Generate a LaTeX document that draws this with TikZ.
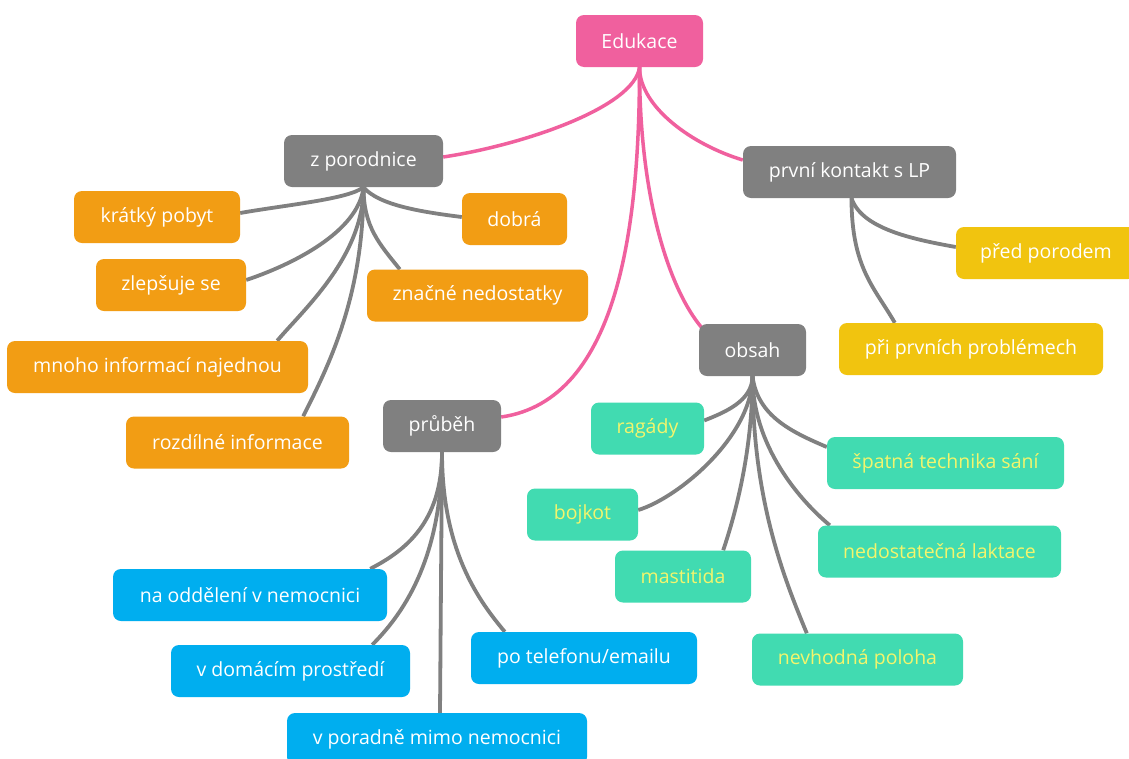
\documentclass[tikz,border=0pt]{standalone}
\usepackage{fontspec}
\setmainfont{Open Sans}
\usepackage{xcolor}
\usepackage{tikz}
\usetikzlibrary{calc,backgrounds}
\definecolor{rootc}{HTML}{F0609E}
\definecolor{midc}{HTML}{808080}
\definecolor{orac}{HTML}{F29D14}
\definecolor{yelc}{HTML}{F1C40F}
\definecolor{grnc}{HTML}{41DBB1}
\definecolor{grntxt}{HTML}{F3F56C}
\definecolor{bluc}{HTML}{00AEEF}
\tikzset{
  box/.style={rounded corners=8pt,text=white,inner xsep=6pt,minimum height=52pt,font=\fontsize{19.5}{22}\selectfont},
  rootbox/.style={box,fill=rootc},
  midbox/.style={box,fill=midc},
  obox/.style={box,fill=orac},
  ybox/.style={box,fill=yelc},
  gbox/.style={box,fill=grnc,text=grntxt},
  bbox/.style={box,fill=bluc},
  rln/.style={rootc,line width=3.5pt},
  gln/.style={midc,line width=3.8pt}
}
\begin{document}
\begin{tikzpicture}[x=1pt,y=-1pt]
\useasboundingbox (0,0) rectangle (1129,758);
\node[rootbox,minimum width=127] (edu) at (639.5,41) {Edukace};
\node[midbox,minimum width=159] (zpor) at (363.5,161) {z porodnice};
\node[midbox,minimum width=213] (pk) at (849.5,172) {první kontakt s LP};
\node[midbox,minimum width=107] (obsah) at (752.5,350) {obsah};
\node[midbox,minimum width=118] (prub) at (442,426) {průběh};
\node[obox,minimum width=166] (kp) at (157,217) {krátký pobyt};
\node[obox,minimum width=150] (zl) at (171,285) {zlepšuje se};
\node[obox,minimum width=301] (mnoho) at (157.5,367) {mnoho informací najednou};
\node[obox,minimum width=223] (rozd) at (237.5,442.5) {rozdílné informace};
\node[obox,minimum width=105] (dobra) at (514.5,219) {dobrá};
\node[obox,minimum width=221] (zn) at (477.5,295.5) {značné nedostatky};
\node[ybox,minimum width=180] (pp) at (1046,253) {před porodem};
\node[ybox,minimum width=264] (pprv) at (971,349) {při prvních problémech};
\node[gbox,minimum width=113] (rag) at (647.5,428.5) {ragády};
\node[gbox,minimum width=111] (boj) at (582.5,514.5) {bojkot};
\node[gbox,minimum width=136] (mast) at (683,576.5) {mastitida};
\node[gbox,minimum width=237] (spat) at (945.5,463) {špatná technika sání};
\node[gbox,minimum width=243] (ned) at (939.5,551.5) {nedostatečná laktace};
\node[gbox,minimum width=211] (nev) at (857.5,659.5) {nevhodná poloha};
\node[bbox,minimum width=274] (nao) at (250,595) {na oddělení v nemocnici};
\node[bbox,minimum width=239] (vdom) at (290.5,671) {v domácím prostředí};
\node[bbox,minimum width=300] (vpor) at (437,739) {v poradně mimo nemocnici};
\node[bbox,minimum width=226] (ptel) at (584,658) {po telefonu/emailu};
\begin{scope}[on background layer]
\fill[white] (0,0) rectangle (1129,758);
\draw[rln] (edu.south) .. controls +(-5,40) and +(80,-12) .. ([yshift=4pt]zpor.east);
\draw[rln] (edu.south) .. controls +(0,40) and +(-50,-15) .. ([yshift=12pt]pk.west);
\draw[rln] (edu.south) .. controls +(0,133) and +(-32,-38) .. ([xshift=3pt,yshift=-4pt]obsah.north west);
\draw[rln] (edu.south) .. controls +(0,153) and +(119,-17) .. ([yshift=9pt]prub.east);
\draw[gln] (zpor.south) .. controls +(-15,12) and +(45,-8) .. ([yshift=4pt]kp.east);
\draw[gln] (zpor.south) .. controls +(-5,45) and +(45,-15) .. ([yshift=5pt]zl.east);
\draw[gln] (zpor.south) .. controls +(0,70) and +(25,-30) .. ([xshift=-31pt]mnoho.north east);
\draw[gln] (zpor.south) .. controls +(0,110) and +(25,-50) .. ([xshift=-46pt]rozd.north east);
\draw[gln] (zpor.south) .. controls +(15,18) and +(-40,-5) .. ([yshift=2pt]dobra.west);
\draw[gln] (zpor.south) .. controls +(0,40) and +(-20,-25) .. ([xshift=33pt]zn.north west);
\draw[gln] ([xshift=2pt]pk.south) .. controls +(10,30) and +(-45,-8) .. ([yshift=6pt]pp.west);
\draw[gln] ([xshift=2pt]pk.south) .. controls +(0,70) and +(-20,-35) .. ([xshift=56pt]pprv.north west);
\draw[gln] (obsah.south) .. controls +(0,25) and +(20,-8) .. ([yshift=8pt]rag.east);
\draw[gln] (obsah.south) .. controls +(0,60) and +(40,-12) .. ([yshift=4.5pt]boj.east);
\draw[gln] (obsah.south) .. controls +(0,80) and +(10,-30) .. ([xshift=-28pt]mast.north east);
\draw[gln] (obsah.south) .. controls +(5,40) and +(-35,-15) .. ([yshift=16pt]spat.west);
\draw[gln] (obsah.south) .. controls +(0,70) and +(-30,-25) .. ([xshift=12pt]ned.north west);
\draw[gln] (obsah.south) .. controls +(0,120) and +(-25,-60) .. ([xshift=55pt]nev.north west);
\draw[gln] (prub.south) .. controls +(0,70) and +(35,-18) .. ([xshift=-17pt]nao.north east);
\draw[gln] (prub.south) .. controls +(0,110) and +(28,-28) .. ([xshift=-38pt]vdom.north east);
\draw[gln] (prub.south) -- ([xshift=3pt]vpor.north);
\draw[gln] (prub.south) .. controls +(0,100) and +(-25,-30) .. ([xshift=34pt]ptel.north west);
\end{scope}
\end{tikzpicture}
\end{document}
